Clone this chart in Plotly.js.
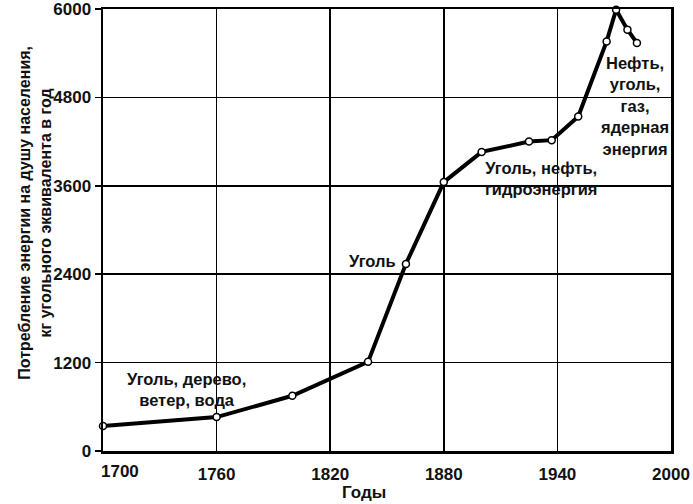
<!DOCTYPE html>
<html>
<head>
<meta charset="utf-8">
<script src="https://cdn.plot.ly/plotly-3.0.1.min.js"></script>
<style>html,body{margin:0;padding:0;background:#fff;}#chart{width:693px;height:504px;}</style>
</head>
<body>
<div id="chart"></div>
<script>
const years = [1700, 1760, 1800, 1840, 1860, 1880, 1900, 1925, 1937, 1951, 1966, 1971, 1977, 1982];
const consumption = [340, 460, 750, 1210, 2540, 3650, 4060, 4200, 4220, 4540, 5560, 5990, 5720, 5540];
const xTicks = [1700, 1760, 1820, 1880, 1940, 2000];
const yTicks = [0, 1200, 2400, 3600, 4800, 6000];
const labelTexts = ["Уголь, дерево,<br>ветер, вода", "Уголь", "Уголь, нефть,<br>гидроэнергия", "Нефть,<br>уголь,<br>газ,<br>ядерная<br>энергия"];
const labelYears = [1744, 1842.5, 1931.5, 1980.5];
const labelValues = [840, 2580, 3700, 4680];

const fontFam = '"Liberation Sans", Arial, sans-serif';
const labelFont = {family: fontFam, size: 16.5, color: '#111', weight: 700};
const tickFont = {family: fontFam, size: 17, color: '#111', weight: 700};

const trace = {
  x: years, y: consumption, type: 'scatter', mode: 'lines+markers',
  line: {color: '#000', width: 4},
  marker: {symbol: 'circle', size: 7, color: '#fff', line: {color: '#000', width: 1.5}},
  cliponaxis: false, hoverinfo: 'skip'
};

const annotations = labelTexts.map((t, i) => ({
  x: labelYears[i], y: labelValues[i], xref: 'x', yref: 'y', text: t, showarrow: false,
  font: labelFont, align: 'center', xanchor: 'center', yanchor: 'middle'
}));
// first x tick label is shifted right in the original to clear the "0"
annotations.push({
  xref: 'paper', yref: 'paper', x: 17 / 570, y: 0, yshift: -20, xanchor: 'center', yanchor: 'middle',
  showarrow: false, text: String(xTicks[0]), font: tickFont
});
annotations.push({
  xref: 'paper', yref: 'paper', x: -0.119, y: 0.54, xanchor: 'center', yanchor: 'middle',
  textangle: -90, showarrow: false, align: 'center',
  text: 'Потребление энергии на душу населения,<br>кг угольного эквивалента в год',
  font: {family: fontFam, size: 16, color: '#111', weight: 700}
});
annotations.push({
  xref: 'paper', yref: 'paper', x: (365 - 103) / 570, y: -0.095, xanchor: 'center', yanchor: 'middle',
  showarrow: false, text: 'Годы', font: {family: fontFam, size: 17, color: '#111', weight: 700}
});

const layout = {
  width: 693, height: 504,
  margin: {l: 103, r: 22, t: 9, b: 53},
  paper_bgcolor: '#fff', plot_bgcolor: '#fff',
  showlegend: false,
  xaxis: {
    range: [1700, 2000], tickvals: xTicks, ticktext: xTicks.map((v, i) => i === 0 ? '' : String(v)),
    showgrid: true, gridcolor: '#000', gridwidth: 1.5, zeroline: false,
    showline: true, linecolor: '#000', linewidth: 2.5, mirror: true,
    ticks: '', ticklabelstandoff: 6, tickfont: tickFont, ticklabeloverflow: 'allow'
  },
  yaxis: {
    range: [0, 6000], tickvals: yTicks, ticktext: yTicks.map(String),
    showgrid: true, gridcolor: '#000', gridwidth: 1.5, zeroline: false,
    showline: true, linecolor: '#000', linewidth: 2.5, mirror: true,
    ticks: 'outside', ticklen: 6, tickwidth: 1.5, tickcolor: '#000',
    tickfont: tickFont, ticklabeloverflow: 'allow'
  },
  annotations: annotations
};

Plotly.newPlot('chart', [trace], layout, {displayModeBar: false, staticPlot: true});
</script>
</body>
</html>
